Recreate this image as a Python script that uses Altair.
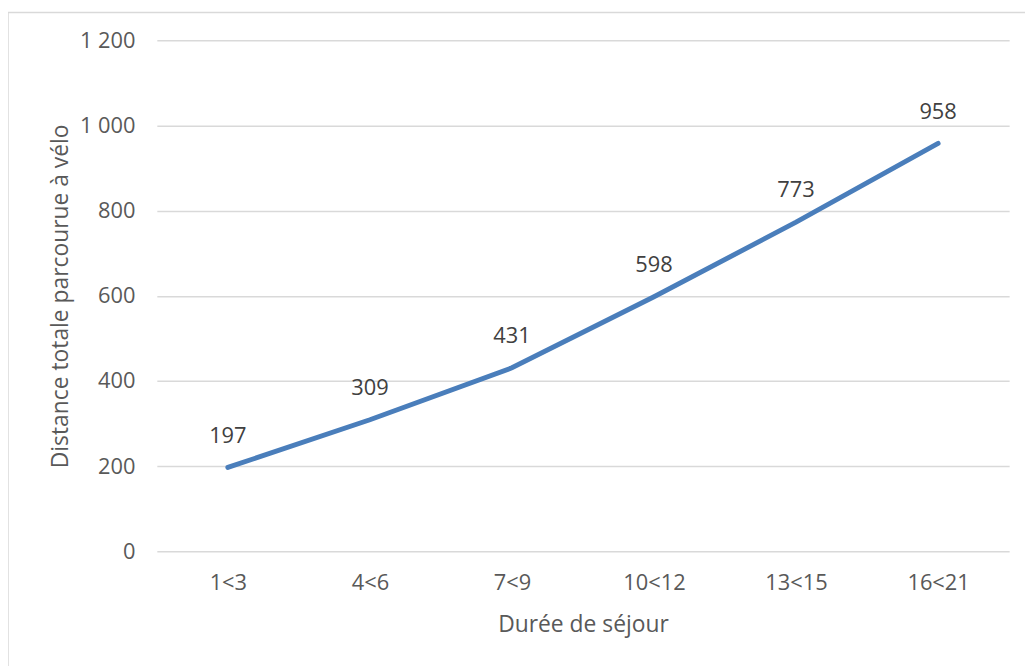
import altair as alt
import pandas as pd

categories = ["1<3", "4<6", "7<9", "10<12", "13<15", "16<21"]
values = [197, 309, 431, 598, 773, 958]

df = pd.DataFrame({"cat": categories, "val": values})

W, H = 859, 515
PL, PT, PR, PB = 150, 30, 16, 120
FONT = "Open Sans"

x = alt.X("cat:N", sort=None, scale=alt.Scale(type="point", padding=0.5),
          axis=alt.Axis(title="Durée de séjour", labelAngle=0, labelPadding=21,
                        titlePadding=21, domain=False, ticks=False, grid=False))
y = alt.Y("val:Q", scale=alt.Scale(domain=[0, 1200], nice=False),
          axis=alt.Axis(title="Distance totale parcourue à vélo", values=[0, 200, 400, 600, 800, 1000, 1200],
                        format=",d", labelPadding=22, titlePadding=7, domain=False, ticks=False,
                        grid=True, gridColor="#d9d9d9", gridWidth=1.5))

frame = alt.Chart(pd.DataFrame({"k": [0]})).mark_rect(fill="transparent", stroke="#d9d9d9", strokeWidth=1.5).encode(
    x=alt.value(-PL), x2=alt.value(W + PR + 30), y=alt.value(-PT + 2), y2=alt.value(H + PB + 30)
)

line = alt.Chart(df).mark_line(color="#4a7ebb", strokeWidth=5, strokeCap="round").encode(x=x, y=y)
labels = alt.Chart(df).mark_text(dy=-32, fontSize=22, font=FONT, color="#404040").encode(
    x=x, y=y, text=alt.Text("val:Q")
)

chart = alt.layer(frame, line, labels).properties(
    width=W, height=H,
    autosize=alt.AutoSizeParams(type="none"),
    padding={"left": PL, "top": PT, "right": PR, "bottom": PB},
).configure(
    locale={"number": {"decimal": ",", "thousands": " ", "grouping": [3], "currency": ["", " €"]}}
).configure_view(stroke=None).configure_axis(
    labelFont=FONT, titleFont=FONT, labelFontSize=22, titleFontSize=23,
    labelColor="#595959", titleColor="#595959", titleFontWeight="normal"
)

chart.save("out.html", embed_options={"renderer": "svg", "actions": False})
